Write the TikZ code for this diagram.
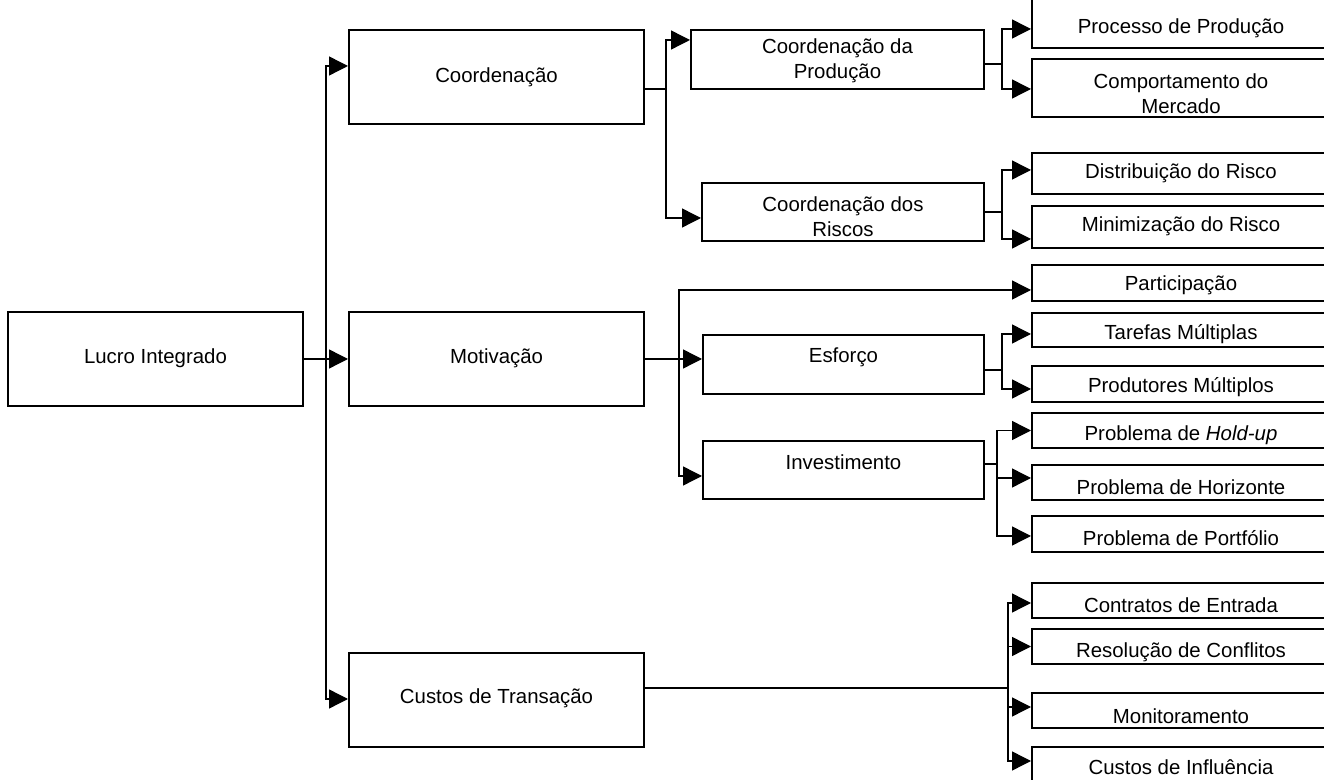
\documentclass[tikz,border=0pt]{standalone}
\usepackage{fontspec}
\setmainfont{Liberation Sans}
\usetikzlibrary{arrows.meta}

\tikzset{
  box/.style={draw=black, line width=1pt, fill=white, inner sep=0pt},
  lbl/.style={font=\fontsize{10.2}{12.5}\selectfont, align=center, inner sep=0pt},
  conn/.style={draw=black, line width=0.7pt},
  arr/.style={conn, -{Triangle[length=9.5pt, width=9.5pt]}},
}

% #1 name, #2 x1, #3 y1, #4 x2, #5 y2, #6 text y, #7 text  (pixel grid, y down)
\newcommand\boxat[7]{%
  \node[box, minimum width={(#4-#2)*0.5pt}, minimum height={(#5-#3)*0.5pt}]
    (#1) at ({(#2+#4)/2},{(#3+#5)/2}) {};
  \node[lbl] (#1-t) at ({(#2+#4)/2},#6) {#7};
}

\begin{document}
\begin{tikzpicture}[x=0.5pt, y=-0.5pt]
  \useasboundingbox (0,0) rectangle (1324,780);
  \fill[white] (0,0) rectangle (1324,780);
  \clip (0,0) rectangle (1324,780);

  % first and second level
  \boxat{lucro}{8}{312}{303}{406}{358}{Lucro Integrado}
  \boxat{coord}{349}{30}{644}{124}{77}{Coordenação}
  \boxat{motiv}{349}{312}{644}{406}{358}{Motivação}
  \boxat{custos}{349}{653}{644}{747}{698}{Custos de Transação}

  % third level
  \boxat{cprod}{691}{30}{984}{89}{61}{Coordenação da\\Produção}
  \boxat{crisk}{702}{183}{984}{241}{217}{Coordenação dos\\Riscos}
  \boxat{esforco}{703}{335}{984}{394}{357}{Esforço}
  \boxat{invest}{703}{441}{984}{499}{462}{Investimento}

  % leaves
  \boxat{processo}{1032}{-2}{1330}{48}{28}{Processo de Produção}
  \boxat{comport}{1032}{59}{1330}{117}{94}{Comportamento do\\Mercado}
  \boxat{distrib}{1032}{153}{1330}{194}{173}{Distribuição do Risco}
  \boxat{minim}{1032}{206}{1330}{248}{226}{Minimização do Risco}
  \boxat{partic}{1032}{265}{1330}{301}{285}{Participação}
  \boxat{tarefas}{1032}{313}{1330}{347}{334}{Tarefas Múltiplas}
  \boxat{produt}{1032}{366}{1330}{402}{387}{Produtores Múltiplos}
  \boxat{holdup}{1032}{413}{1330}{448}{435}{Problema de \textit{Hold-up}}
  \boxat{horiz}{1032}{465}{1330}{500}{487}{Problema de Horizonte}
  \boxat{portf}{1032}{516}{1330}{552}{538}{Problema de Portfólio}
  \boxat{contr}{1032}{583}{1330}{618}{605}{Contratos de Entrada}
  \boxat{resol}{1032}{629}{1330}{664}{652}{Resolução de Conflitos}
  \boxat{monit}{1032}{693}{1330}{728}{716}{Monitoramento}
  \boxat{influ}{1032}{747}{1330}{800}{767}{Custos de Influência}

  % junction points of the branching lines
  \coordinate (j1) at (326,359);
  \coordinate (j2) at (666,89);
  \coordinate (j3) at (1002,64);
  \coordinate (j4) at (1002,212);
  \coordinate (j5) at (679,359);
  \coordinate (j6) at (1002,370);
  \coordinate (j7) at (997,464);
  \coordinate (j8) at (1008,688);

  % Lucro Integrado
  \draw[conn] (lucro.east) -- (j1);
  \draw[arr] (j1) |- ([yshift=5.5pt]coord.west);
  \draw[arr] (j1) -- (motiv.west);
  \draw[arr] (j1) |- ([yshift=0.5pt]custos.west);

  % Coordenação
  \draw[conn] ([yshift=-6pt]coord.east) -- (j2);
  \draw[arr] (j2) |- ([yshift=9.75pt]cprod.west);
  \draw[arr] (j2) |- ([yshift=-3pt]crisk.west);

  \draw[conn] ([yshift=-2.25pt]cprod.east) -- (j3);
  \draw[arr] (j3) |- ([yshift=-3pt]processo.west);
  \draw[arr] (j3) |- ([yshift=-0.5pt]comport.west);

  \draw[conn] (crisk.east) -- (j4);
  \draw[arr] (j4) |- ([yshift=1.75pt]distrib.west);
  \draw[arr] (j4) |- ([yshift=-6pt]minim.west);

  % Motivação
  \draw[conn] (motiv.east) -- (j5);
  \draw[arr] (j5) |- ([yshift=-3.5pt]partic.west);
  \draw[arr] (j5) |- ([yshift=2.75pt]esforco.west);
  \draw[arr] (j5) |- ([yshift=-3pt]invest.west);

  \draw[conn] ([yshift=-2.75pt]esforco.east) -- (j6);
  \draw[arr] (j6) |- ([yshift=-2pt]tarefas.west);
  \draw[arr] (j6) |- ([yshift=-2.5pt]produt.west);

  \draw[conn] ([yshift=3pt]invest.east) -- (j7);
  \draw[arr] (j7) |- (holdup.west);
  \draw[arr] (j7) |- ([yshift=2.25pt]horiz.west);
  \draw[arr] (j7) |- ([yshift=-1pt]portf.west);

  % Custos de Transação
  \draw[conn] ([yshift=6pt]custos.east) -- (j8);
  \draw[arr] (j8) |- ([yshift=-1.25pt]contr.west);
  \draw[arr] (j8) |- (resol.west);
  \draw[arr] (j8) |- ([yshift=1.75pt]monit.west);
  \draw[arr] (j8) |- ([yshift=-7.5pt]influ.north west);
\end{tikzpicture}
\end{document}
